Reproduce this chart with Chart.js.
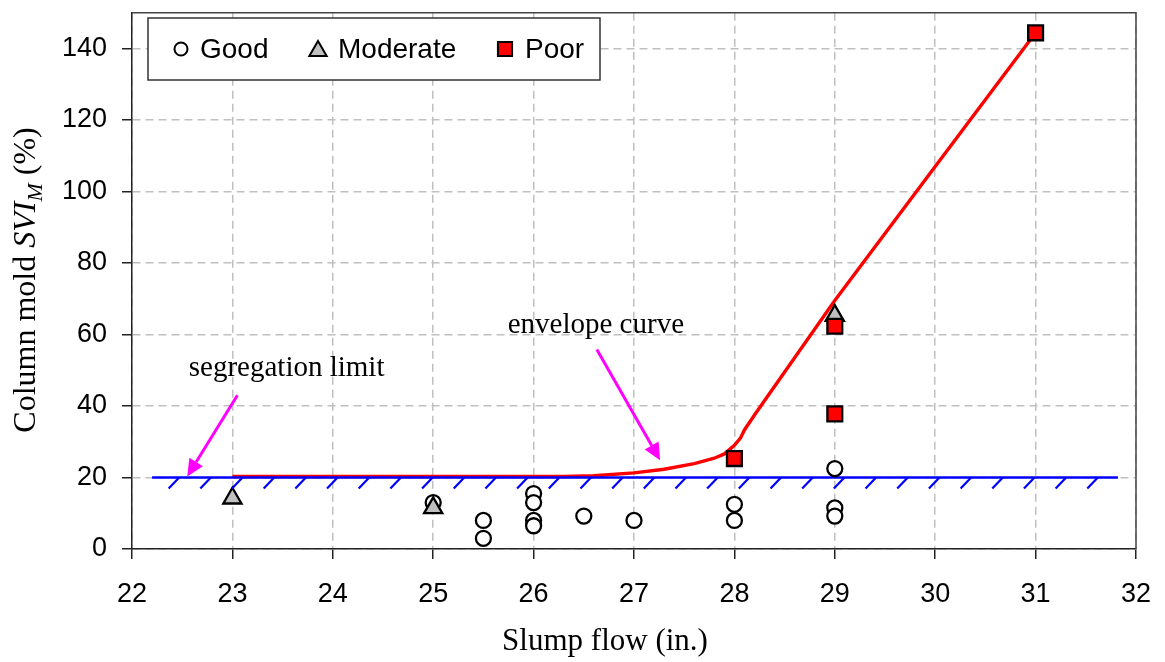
<!DOCTYPE html>
<html>
<head>
<meta charset="utf-8">
<script src="https://cdn.jsdelivr.net/npm/chart.js@4.4.0/dist/chart.umd.min.js"></script>
<style>
  html, body { margin: 0; padding: 0; background: #fff; }
  #wrap { width: 1165px; height: 662px; }
</style>
</head>
<body>
<div id="wrap"><canvas id="svi"></canvas></div>
<script>
// slump flow (in.) vs column mold SVI_M (%)
const goodX = [25, 25.5, 25.5, 26, 26, 26, 26, 26.5, 27, 28, 28, 29, 29, 29];
const goodY = [13, 8, 3, 15.5, 13, 8, 6.5, 9.2, 8, 12.5, 8, 22.5, 11.5, 9.2];

const moderateX = [23, 25, 29];
const moderateY = [14.2, 11.5, 65.3];

const poorX = [28, 29, 29, 31];
const poorY = [25.3, 62.3, 37.8, 144.4];

// envelope curve drawn by hand over the data
const envelopeX = [23, 26.3, 26.6, 27, 27.3, 27.6, 27.8, 27.9, 28, 28.06, 28.1, 28.2, 29, 30, 31];
const envelopeY = [20.3, 20.3, 20.5, 21.3, 22.3, 23.9, 25.4, 26.6, 29, 31, 33.3, 37.5, 69.5, 107, 144.4];

// segregation limit
const limitX = [22.2, 31.82];
const limitY = [20, 20];

const xTicks = [22, 23, 24, 25, 26, 27, 28, 29, 30, 31, 32];
const yTicks = [0, 20, 40, 60, 80, 100, 120, 140];

const toPoints = (xs, ys) => xs.map((x, i) => ({ x: x, y: ys[i] }));

const serif = '"Liberation Serif", "Times New Roman", serif';
const sans = '"Liberation Sans", Arial, sans-serif';

// hatch marks under the limit line
const hatch = { first: 22.47, last: 31.62, count: 30, dx: -0.105, dy: -3.1 };

// callouts: text plus arrow (data coordinates)
const callouts = [
  { text: 'segregation limit', tx: 23.54, ty: 48.3, from: [23.05, 43.0], to: [22.55, 20.3] },
  { text: 'envelope curve', tx: 26.62, ty: 60.3, from: [26.63, 55.8], to: [27.26, 24.8] }
];

const decorations = {
  id: 'decorations',
  beforeDatasetsDraw(chart) {
    const { ctx, chartArea: a } = chart;
    // top and right frame of the plot area
    ctx.save();
    ctx.strokeStyle = '#444';
    ctx.lineWidth = 1.5;
    ctx.beginPath();
    ctx.moveTo(a.left, a.top);
    ctx.lineTo(a.right, a.top);
    ctx.lineTo(a.right, a.bottom);
    ctx.stroke();
    ctx.restore();
  },
  afterDatasetsDraw(chart) {
    const { ctx } = chart;
    const xs = chart.scales.x, ys = chart.scales.y;
    const px = v => xs.getPixelForValue(v);
    const py = v => ys.getPixelForValue(v);

    // hatching
    ctx.save();
    ctx.strokeStyle = '#0000ff';
    ctx.lineWidth = 2.2;
    const step = (hatch.last - hatch.first) / (hatch.count - 1);
    for (let i = 0; i < hatch.count; i++) {
      const hx = hatch.first + i * step;
      ctx.beginPath();
      ctx.moveTo(px(hx), py(20));
      ctx.lineTo(px(hx + hatch.dx), py(20 + hatch.dy));
      ctx.stroke();
    }
    ctx.restore();

    // callouts
    ctx.save();
    ctx.font = '29px ' + serif;
    ctx.fillStyle = '#000';
    ctx.textAlign = 'center';
    ctx.textBaseline = 'alphabetic';
    callouts.forEach(c => {
      ctx.fillText(c.text, px(c.tx), py(c.ty));
      const x1 = px(c.from[0]), y1 = py(c.from[1]);
      const x2 = px(c.to[0]), y2 = py(c.to[1]);
      const ang = Math.atan2(y2 - y1, x2 - x1);
      const head = 17, half = 8;
      const bx = x2 - head * Math.cos(ang), by = y2 - head * Math.sin(ang);
      ctx.strokeStyle = '#ff00ff';
      ctx.fillStyle = '#ff00ff';
      ctx.lineWidth = 3;
      ctx.beginPath();
      ctx.moveTo(x1, y1);
      ctx.lineTo(bx, by);
      ctx.stroke();
      ctx.beginPath();
      ctx.moveTo(x2, y2);
      ctx.lineTo(bx + half * Math.sin(ang), by - half * Math.cos(ang));
      ctx.lineTo(bx - half * Math.sin(ang), by + half * Math.cos(ang));
      ctx.closePath();
      ctx.fill();
      ctx.fillStyle = '#000';
    });
    ctx.restore();
  },
  afterDraw(chart) {
    const { ctx } = chart;
    // legend box
    ctx.save();
    ctx.fillStyle = '#fff';
    ctx.fillRect(148, 18, 452, 62);
    ctx.strokeStyle = '#333';
    ctx.lineWidth = 1.5;
    ctx.strokeRect(148, 18, 452, 62);
    const items = [
      { ds: 0, mx: 181, tx: 200, r: 6.5 },
      { ds: 1, mx: 318, tx: 338, r: 10 },
      { ds: 2, mx: 505, tx: 525, r: 10 }
    ];
    ctx.font = '28px ' + sans;
    ctx.textBaseline = 'middle';
    ctx.textAlign = 'left';
    items.forEach(it => {
      const d = chart.data.datasets[it.ds];
      ctx.fillStyle = d.pointBackgroundColor;
      ctx.strokeStyle = d.pointBorderColor;
      ctx.lineWidth = 2;
      Chart.helpers.drawPoint(ctx, { pointStyle: d.pointStyle, radius: it.r, borderWidth: 2, rotation: 0 }, it.mx, it.ds === 1 ? 51 : 49);
      ctx.fillStyle = '#000';
      ctx.fillText(d.label, it.tx, 50);
    });
    ctx.restore();

    // axis titles
    ctx.save();
    ctx.fillStyle = '#000';
    ctx.font = '31px ' + serif;
    ctx.textAlign = 'center';
    ctx.textBaseline = 'alphabetic';
    ctx.fillText('Slump flow (in.)', 605, 650);

    const parts = [
      { t: 'Column mold ', f: '32px ' + serif, dy: 0 },
      { t: 'SVI', f: 'italic 32px ' + serif, dy: 0 },
      { t: 'M', f: 'italic 22px ' + serif, dy: 7 },
      { t: ' (%)', f: '32px ' + serif, dy: 0 }
    ];
    let total = 0;
    parts.forEach(p => { ctx.font = p.f; p.w = ctx.measureText(p.t).width; total += p.w; });
    ctx.translate(35, 280);
    ctx.rotate(-Math.PI / 2);
    ctx.textAlign = 'left';
    let cx = -total / 2;
    parts.forEach(p => {
      ctx.font = p.f;
      ctx.fillText(p.t, cx, p.dy);
      cx += p.w;
    });
    ctx.restore();
  }
};

const gridStyle = {
  color: '#c0c0c0',
  lineWidth: 1.5,
  tickColor: '#222',
  tickLength: 10,
  tickWidth: 1.5
};

new Chart(document.getElementById('svi'), {
  type: 'scatter',
  data: {
    datasets: [
      {
        label: 'Good', data: toPoints(goodX, goodY), order: 2,
        pointStyle: 'circle', pointRadius: 7.5, pointBorderWidth: 2.3,
        pointBackgroundColor: '#ffffff', pointBorderColor: '#000000'
      },
      {
        label: 'Moderate', data: toPoints(moderateX, moderateY), order: 1,
        pointStyle: 'triangle', pointRadius: 10.5, pointBorderWidth: 2.3,
        pointBackgroundColor: '#c0c0c0', pointBorderColor: '#000000'
      },
      {
        label: 'Poor', data: toPoints(poorX, poorY), order: 0,
        pointStyle: 'rect', pointRadius: 10.5, pointBorderWidth: 2.3,
        pointBackgroundColor: '#ff0000', pointBorderColor: '#000000'
      },
      {
        label: 'segregation limit', data: toPoints(limitX, limitY), order: 3,
        showLine: true, pointRadius: 0, borderColor: '#0000ff', borderWidth: 2.6
      },
      {
        label: 'envelope curve', data: toPoints(envelopeX, envelopeY), order: 4,
        showLine: true, pointRadius: 0, borderColor: '#ff0000', borderWidth: 3.4, tension: 0
      }
    ]
  },
  options: {
    responsive: true,
    maintainAspectRatio: false,
    animation: false,
    layout: { padding: { top: 8, right: 29, left: 0, bottom: 0 } },
    plugins: { legend: { display: false }, tooltip: { enabled: false } },
    scales: {
      x: {
        type: 'linear', min: 22, max: 32,
        afterBuildTicks: s => { s.ticks = xTicks.map(v => ({ value: v })); },
        afterFit: s => { s.height = 113; s.paddingLeft = 0; s.paddingRight = 0; },
        ticks: { font: { family: sans, size: 27 }, color: '#000', padding: 19, maxRotation: 0 },
        grid: gridStyle,
        border: { display: true, color: '#222', width: 1.5, dash: [8, 5] }
      },
      y: {
        type: 'linear', min: 0, max: 150,
        afterBuildTicks: s => { s.ticks = yTicks.map(v => ({ value: v })); },
        afterFit: s => { s.width = 132; s.paddingTop = 0; s.paddingBottom = 0; },
        ticks: { font: { family: sans, size: 27 }, color: '#000', padding: 15 },
        grid: gridStyle,
        border: { display: true, color: '#222', width: 1.5, dash: [8, 5] }
      }
    }
  },
  plugins: [decorations]
});
</script>
</body>
</html>
